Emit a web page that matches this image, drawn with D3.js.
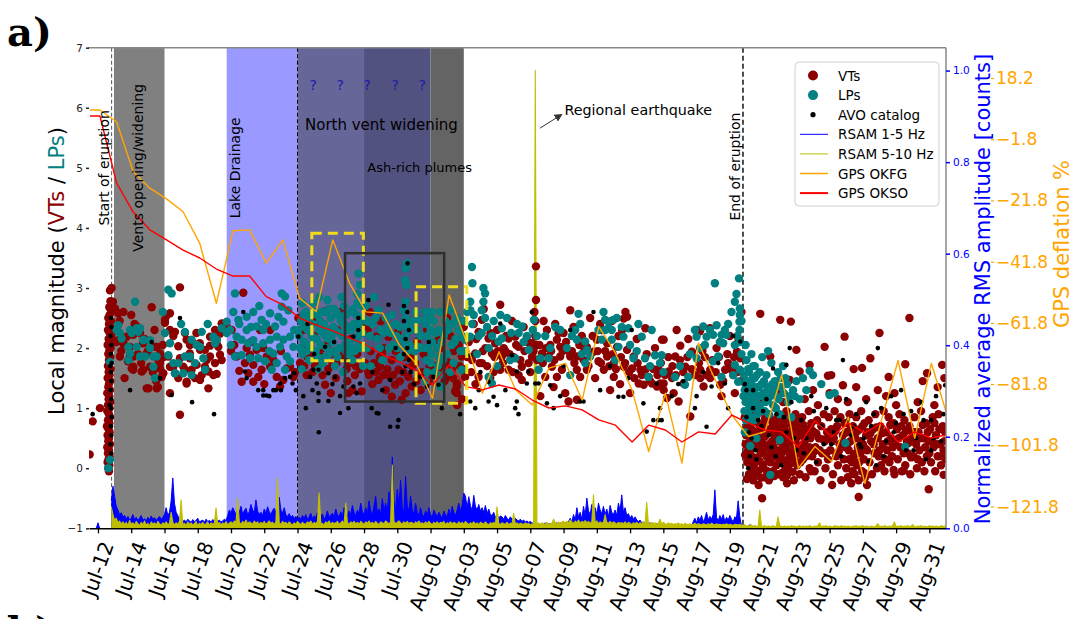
<!DOCTYPE html>
<html>
<head>
<meta charset="utf-8">
<script src="https://cdn.jsdelivr.net/npm/d3@7"></script>
<style>
html,body{margin:0;padding:0;background:#fff;overflow:hidden}
svg{display:block;font-family:"DejaVu Sans",sans-serif}
</style>
</head>
<body>
<svg id="chart" width="1079" height="619"></svg>
<script>
// ---------------------------------------------------------------
// Okmok 2008 eruption: seismicity, RSAM and GPS deflation
// Times are in days after 2008-07-12 00:00 UTC.
// ---------------------------------------------------------------

// x-axis tick labels (every two days from Jul-12)
const xTickLabels = ["Jul-12","Jul-14","Jul-16","Jul-18","Jul-20","Jul-22","Jul-24","Jul-26","Jul-28","Jul-30",
  "Aug-01","Aug-03","Aug-05","Aug-07","Aug-09","Aug-11","Aug-13","Aug-15","Aug-17","Aug-19",
  "Aug-21","Aug-23","Aug-25","Aug-27","Aug-29","Aug-31"];
const magTicks = [-1,0,1,2,3,4,5,6,7];
const rmsTicks = [0,0.2,0.4,0.6,0.8,1.0];
const gpsTicks = [18.2,-1.8,-21.8,-41.8,-61.8,-81.8,-101.8,-121.8];

// eruption phases [start day, end day]
const phaseSpans = [[0.96,4.0],[7.74,12.0],[12.0,16.0],[16.0,20.0],[20.0,22.0]];
// vertical markers: start of eruption, Jul-24, end of eruption
const eventDays = [0.82, 12.0, 38.79];
// regional earthquake (Aug-07)
const quakeDay = 26.31;

// highlighted windows [day0, day1, mag0, mag1]
const dashedBoxes = [[12.86,15.96,1.79,3.91],[19.13,22.18,1.08,3.02]];
const solidBoxes = [[14.86,20.82,1.11,3.58]];

// GPS deflation (%) - daily solutions
const gpsDays = [-0.48,0.12,1.12,2.12,3.12,4.12,5.12,6.12,7.12,8.12,9.12,10.12,11.12,12.12,13.12,14.12,15.12,16.12,17.12,18.12,19.12,
  20.12,21.12,22.12,23.12,24.12,25.12,26.12,27.12,28.12,29.12,30.12,31.12,32.12,33.12,34.12,35.12,36.12,37.12,38.12,39.12,
  40.12,41.12,42.12,43.12,44.12,45.12,46.12,47.12,48.12,49.12,50.12,51.0];
const gpsOKFG = [7.75,7.75,3.9,-12.4,-17.8,-21.3,-25.5,-35.8,-55.4,-31.7,-31.4,-42.3,-34.7,-53.7,-58.1,-34.7,-48.7,-58.2,-58.6,-69.0,-75.0,
  -86.4,-52.7,-67.4,-84.8,-71.2,-83.7,-88.6,-76.6,-75.0,-87.0,-63.0,-71.7,-83.7,-103.8,-84.8,-107.6,-68.4,-80.4,-91.9,-98.9,
  -97.3,-78.8,-109.3,-102.2,-107.1,-92.6,-114.2,-93.5,-74.1,-99.5,-75.0,-90.8];
const gpsOKSO = [5.8,5.8,-16.1,-25.6,-31.4,-34.7,-38.0,-40.6,-44.2,-46.5,-46.5,-53.2,-55.9,-60.2,-62.5,-64.4,-66.7,-69.0,-72.2,-74.5,-77.2,
  -82.1,-75.5,-82.6,-83.7,-82.1,-83.4,-87.0,-89.6,-88.9,-90.2,-93.5,-95.2,-100.7,-95.2,-96.8,-100.7,-97.4,-98.1,-91.9,-94.5,
  -96.8,-97.4,-102.3,-93.8,-99.0,-94.5,-97.7,-94.5,-100.7,-97.4,-99.4,-98.4];

// RSAM, normalized amplitude x1000, one sample every 0.1 day from day -0.5
const rsamStart = -0.5, rsamStep = 0.1;
const rsamLow = [
  null,null,null,null,0,12,0,null,null,null,
  null,null,null,60,92,70,48,40,30,34,
  25,28,20,26,18,22,30,19,24,17,
  22,28,18,21,16,24,19,27,20,23,
  17,22,26,19,24,30,45,28,35,60,
  110,55,35,28,20,16,15,18,14,20,
  16,13,19,15,17,22,14,16,18,13,
  20,15,17,14,19,16,21,15,18,14,
  16,20,17,28,40,33,45,38,30,42,
  35,48,32,38,44,30,36,52,40,34,
  62,38,30,35,28,42,33,47,36,30,
  39,44,34,55,68,40,33,45,30,26,
  32,24,28,22,26,20,24,20,28,22,
  30,19,25,33,21,27,24,35,22,28,
  31,20,26,38,24,29,33,26,42,30,
  25,36,28,45,32,27,38,30,50,35,
  28,40,33,55,36,30,45,32,60,38,
  28,50,70,35,42,30,65,40,55,35,
  80,45,156,60,40,85,50,105,45,38,
  113,50,36,70,40,30,55,35,28,45,
  30,25,38,28,45,30,24,40,32,26,
  35,28,22,38,30,25,42,30,48,35,
  28,40,55,38,50,77,70,45,69,50,
  38,72,48,40,52,38,45,35,50,32,
  42,30,28,35,24,30,22,27,25,20,
  28,22,18,25,20,17,22,18,16,20,
  15,18,14,16,13,15,12,10,12,9,
  11,8,10,9,12,8,10,9,11,8,
  10,12,9,11,13,10,12,11,15,22,
  14,30,18,45,25,35,20,48,28,66,
  38,30,52,35,45,30,55,40,32,48,
  30,42,25,50,35,30,40,28,55,38,
  73,35,45,28,32,22,28,20,25,18,
  15,18,12,14,11,13,10,12,9,11,
  8,10,7,9,6,8,5,7,5,6,
  4,6,5,4,6,5,4,5,3,5,
  4,5,4,15,22,12,25,18,28,14,
  22,35,18,26,20,30,84,24,16,28,
  20,30,15,24,18,28,20,14,25,22,
  60,25,5,3,2,4,3,8,6,3,
  2,3,2,4,2,3,1,2,3,2,
  3,2,1,2,3,2,2,1,3,2,
  2,1,3,2,2,3,1,2,2,3,
  1,2,2,3,2,1,2,3,2,2,
  3,2,1,2,2,3,2,1,2,3,
  2,2,3,1,2,2,3,2,1,2,
  2,3,2,2,1,3,2,2,3,1,
  2,1,2,3,2,2,1,3,2,2,
  3,2,2,1,2,3,2,2,1,2,
  2,3,1,2,2,2,3,1,2,2,
  1,2,3,2,2,1,2,2,3,2,
  2,2,1,3,2,2];
const rsamHigh = [
  null,null,null,null,null,null,null,null,null,null,
  null,null,null,47,30,18,22,12,16,9,
  14,8,13,6,17,9,12,7,15,10,
  6,13,8,16,7,11,5,14,9,12,
  7,15,10,6,12,9,14,8,11,35,
  13,7,12,9,15,62,8,11,6,14,
  9,12,7,10,15,6,11,8,13,7,
  10,14,6,12,9,11,44,8,13,7,
  12,9,15,8,11,14,10,16,12,66,
  13,9,15,11,18,10,14,12,9,16,
  11,14,8,13,10,15,9,12,16,11,
  13,8,14,110,12,9,15,11,13,8,
  14,10,7,12,9,15,11,8,13,10,
  9,14,11,16,8,13,10,15,77,12,
  10,8,14,11,16,9,13,10,12,15,
  9,12,16,10,55,13,8,14,11,15,
  10,13,9,15,12,8,14,11,16,10,
  13,9,15,11,8,14,12,10,16,13,
  9,14,138,15,10,13,16,12,9,14,
  11,15,10,13,12,9,14,11,16,10,
  12,9,14,10,15,11,8,13,10,14,
  9,13,11,15,8,12,10,14,9,13,
  11,8,14,10,13,9,15,11,8,12,
  10,14,9,12,8,13,11,9,14,10,
  8,12,10,13,9,47,11,8,12,10,
  9,13,8,11,10,33,9,12,8,11,
  10,8,12,9,11,7,10,8,1000,9,
  11,8,12,10,9,13,8,10,11,20,
  12,9,14,10,13,16,11,15,12,18,
  14,10,16,12,18,11,15,13,17,12,
  15,11,14,73,12,16,10,14,11,13,
  30,13,11,15,10,14,12,9,13,11,
  12,10,14,9,13,11,8,12,10,13,
  9,12,10,14,8,57,11,9,13,10,
  12,8,11,20,9,13,10,8,12,9,
  11,8,10,9,12,8,10,7,11,9,
  8,10,7,9,11,8,10,9,7,10,
  9,7,10,8,11,9,7,10,8,9,
  7,9,8,10,7,9,8,6,9,8,
  7,9,6,5,8,4,6,5,7,4,
  6,4,5,40,5,4,6,3,5,4,
  4,6,3,5,25,6,4,4,5,3,
  5,3,6,4,5,3,4,6,3,5,
  4,5,3,6,4,3,5,4,6,12,
  3,5,4,6,3,5,4,3,6,4,
  5,3,6,4,5,3,5,4,3,5,
  4,6,3,5,4,6,3,5,4,3,
  5,4,3,6,10,4,5,3,6,4,
  3,5,4,6,14,3,5,4,6,3,
  5,4,6,3,5,8,4,3,5,4,
  6,3,5,4,3,6,4,5,3,5,
  4,3,6,4,5,3];

// Volcano-tectonic events [day, local magnitude]
const vtEvents = [
  [-0.5,0.23],[-0.32,0.78],[0.12,1.0],
  [0.72,2.96],[0.75,2.78],[0.68,2.68],[0.8,2.6],[0.7,2.55],[0.62,2.5],[0.78,2.45],[0.66,2.4],[0.74,2.35],[0.6,2.3],
  [0.7,2.25],[0.8,2.2],[0.64,2.15],[0.72,2.1],[0.58,2.05],[0.76,2.0],[0.68,1.95],[0.62,1.9],[0.74,1.85],[0.66,1.8],
  [0.7,1.75],[0.6,1.7],[0.76,1.65],[0.64,1.6],[0.7,1.55],[0.58,1.5],[0.74,1.45],[0.66,1.4],[0.62,1.35],[0.72,1.3],
  [0.56,1.25],[0.68,1.2],[0.64,1.15],[0.74,1.1],[0.6,1.05],[0.7,1.0],[0.56,0.95],[0.66,0.9],[0.72,0.85],[0.6,0.8],
  [0.68,0.75],[0.54,0.7],[0.64,0.65],[0.7,0.6],[0.58,0.55],[0.66,0.5],[0.62,0.45],[0.72,0.4],[0.56,0.35],[0.66,0.3],
  [0.6,0.25],[0.7,0.2],[0.64,0.15],[0.58,0.1],[0.68,0.05],[0.62,0.0],[0.66,-0.05],[0.9,2.77],[0.82,3.0],
  [1.02,2.66],[1.53,2.6],[3.23,2.68],[2.12,2.22],[2.72,2.08],[3.43,2.02],[1.93,1.86],[2.63,1.61],[3.13,1.69],[2.12,1.69],
  [3.03,1.33],[3.63,1.8],[3.83,1.52],[3.73,1.66],[1.53,2.08],[1.22,2.13],[1.22,2.58],[1.02,2.3],[1.73,2.19],[1.93,2.02],
  [2.12,1.86],[2.33,2.36],[2.93,1.91],[3.53,2.02],[3.73,1.91],[2.73,1.64],[2.12,1.64],[2.93,1.33],[1.52,2.08],[1.32,1.86],
  [2.53,2.25],[2.03,1.66],[1.4,1.95],[1.8,1.78],[2.4,1.9],[2.6,1.75],[3.0,1.95],[3.3,1.6],[3.5,1.45],[1.1,2.1],
  [2.2,2.4],[3.9,2.05],[3.95,1.85],[1.6,1.5],[2.8,2.15],[3.4,2.3],[1.3,2.45],[2.0,2.55],[3.6,1.35],
  [4.93,3.01],[4.33,2.58],[4.03,2.47],[4.33,2.3],[4.63,2.27],[5.33,2.14],[4.83,2.03],[5.52,1.91],[5.72,2.08],[6.12,2.08],
  [5.92,2.25],[6.43,1.97],[6.74,1.86],[7.04,2.3],[7.14,2.14],[4.93,1.83],[5.52,1.83],[4.33,1.69],[4.63,1.58],[5.23,1.64],
  [5.63,1.64],[6.14,1.47],[5.33,1.44],[4.83,1.5],[6.43,1.69],[6.64,1.33],[4.33,1.25],[4.93,0.89],[7.44,1.8],[7.24,2.02],
  [3.73,1.75],[3.93,1.58],[6.64,1.61],[6.94,1.55],[4.13,2.54],[4.03,2.42],[4.53,2.2],[5.23,2.25],[5.53,2.05],[6.14,1.97],
  [6.74,2.04],[7.14,2.07],[7.04,1.75],[6.54,1.8],[5.93,1.72],[5.13,1.69],[4.53,1.69],[5.83,1.5],[6.24,1.55],[7.14,1.57],
  [5.33,1.41],[7.74,2.36],[7.44,2.41],[7.34,2.24],[7.34,1.89],[6.74,2.19],[4.23,1.86],[3.53,1.33],
  [8.74,2.92],[8.04,2.3],[9.54,1.97],[9.94,2.0],[8.94,2.0],[8.34,1.86],[8.84,1.75],[9.34,1.72],[9.84,1.64],[10.35,1.69],
  [10.75,1.52],[11.15,1.47],[9.64,1.52],[9.04,1.58],[8.64,1.44],[9.34,1.44],[10.95,1.36],[11.55,1.69],[11.75,1.52],[11.35,1.66],
  [10.15,1.86],[9.14,1.89],[9.75,2.3],[10.35,2.3],[8.2,2.05],[8.5,1.62],[10.55,1.8],[11.0,1.95],[11.85,1.6],[10.0,1.4],
  [8.0,1.95],[9.2,2.1],
  [13.66,2.61],[12.05,2.5],[12.35,2.3],[12.2,2.0],[12.6,1.85],[13.0,2.2],[13.3,1.9],[13.8,2.05],[14.1,1.75],[14.4,2.3],
  [14.8,1.95],[15.2,2.15],[15.5,1.7],[15.9,2.4],[12.9,1.6],[13.5,1.55],[14.3,1.5],[15.0,1.45],[15.6,1.9],[13.1,2.45],
  [14.6,2.6],[12.4,1.7],[15.3,1.3],[14.0,1.25],[13.66,1.39],[15.06,1.25],[15.86,1.28],[16.33,2.6],[16.73,2.19],
  [12.15,1.75],[12.55,1.55],[12.85,1.9],[13.05,1.7],[13.35,1.8],[13.55,2.0],[13.85,1.65],[14.05,1.9],[14.35,1.75],[14.65,1.85],
  [14.95,1.65],[15.15,1.75],[15.45,1.55],[15.75,1.65],
  [17.07,1.91],[17.67,1.8],[18.07,1.64],[18.67,1.52],[18.87,1.36],[17.87,1.39],[17.57,1.52],[16.97,1.69],[19.07,1.75],[18.27,1.14],
  [17.67,1.19],[16.87,1.47],[17.47,2.19],[16.4,1.95],[16.6,1.75],[17.2,2.0],[17.9,1.95],[18.4,1.85],[18.9,1.7],[19.3,1.55],
  [19.6,1.9],[19.9,1.45],[16.5,1.4],[17.3,1.3],[18.5,1.25],[19.4,1.3],[16.2,2.3],[17.0,2.45],[18.0,2.25],[19.2,2.1],
  [19.8,2.3],[16.3,1.55],[18.7,2.0],
  [16.05,1.75],[16.25,1.6],[16.7,1.6],[16.95,1.85],[17.15,1.55],[17.4,1.65],[17.75,1.55],[18.15,1.45],[18.35,1.6],[18.85,1.85],
  [19.15,1.45],[19.5,1.6],[19.95,1.7],
  [21.28,1.64],[21.58,1.41],[21.48,1.28],[20.98,1.52],[20.48,1.58],[21.88,1.86],[22.08,1.52],[21.58,1.36],[21.58,1.25],[20.6,2.0],
  [20.9,1.8],[21.2,2.2],[21.7,2.05],[22.0,2.35],[21.9,1.15],[21.6,1.05],[20.3,1.7],[21.0,2.5],[21.4,1.95],[20.48,2.14],
  [20.15,1.55],[20.7,1.7],[20.85,1.45],[21.1,1.75],[21.35,1.5],[21.75,1.7],[22.0,1.65],
  [24.19,2.72],[23.09,2.47],[22.89,2.27],[23.49,2.16],[23.89,2.08],[24.69,2.16],[25.09,2.19],[25.79,2.19],[25.29,2.02],[26.09,2.08],
  [22.69,1.91],[23.69,1.91],[24.29,1.86],[22.49,1.8],[23.09,1.75],[24.69,1.64],[25.49,1.69],[22.89,1.52],[23.59,1.5],[24.19,1.64],
  [25.49,1.47],[22.3,2.1],[22.6,2.4],[23.3,2.0],[24.0,2.3],[24.5,1.95],[25.0,1.85],[25.6,2.35],[25.9,1.75],[23.8,1.6],
  [22.7,1.4],[24.9,2.45],[23.2,2.65],[25.3,1.55],[24.4,2.0],[26.0,1.6],
  [22.2,1.85],[22.45,1.6],[22.75,2.15],[22.95,1.75],[23.15,1.95],[23.4,1.7],[23.6,2.25],[23.85,1.85],[24.05,1.95],[24.35,1.75],
  [24.55,2.2],[24.75,1.9],[24.95,1.6],[25.15,2.05],[25.4,1.8],[25.65,1.95],[25.85,2.1],[26.1,1.85],
  [26.34,3.36],[26.34,2.8],[26.25,2.6],[26.3,2.45],[26.3,2.2],[26.2,1.95],[26.4,2.05],
  [27.0,2.3],[27.6,2.14],[27.2,2.05],[27.8,2.02],[28.4,2.63],[28.4,1.86],[28.8,1.86],[29.2,1.8],[29.4,2.02],[28.8,1.64],
  [29.4,1.64],[29.0,1.52],[28.1,1.25],[28.3,1.11],[28.8,1.14],[26.7,1.91],[27.1,1.86],[27.8,1.86],[26.4,1.8],[27.3,1.69],
  [27.9,1.64],[27.6,1.52],[26.9,1.52],[30.0,2.14],[29.8,1.94],[30.1,1.78],[26.8,2.45],[27.5,2.4],[28.0,2.25],[28.6,2.35],
  [29.1,2.2],[29.6,2.5],[30.2,2.4],[27.4,1.35],[26.6,1.2],[29.9,1.5],[28.3,1.95],
  [26.55,2.05],[26.75,1.75],[26.95,2.0],[27.25,1.95],[27.45,1.8],[27.7,2.25],[27.95,1.95],[28.15,2.1],[28.5,1.95],[28.65,1.75],
  [28.95,2.05],[29.25,1.95],[29.5,1.7],[29.75,2.2],[30.05,1.95],[30.25,1.75],
  [31.72,2.6],[31.82,2.52],[31.62,2.49],[32.92,2.33],[31.52,2.3],[30.62,2.08],[31.22,2.02],[31.82,1.97],[32.22,1.86],[30.62,1.86],
  [31.02,1.75],[31.62,1.69],[32.12,1.66],[32.62,1.64],[30.42,1.64],[33.12,1.52],[32.52,1.41],[32.82,1.39],[33.32,1.41],[33.82,1.41],
  [34.02,1.3],[33.62,1.36],[33.92,2.14],[31.02,1.52],[30.3,2.3],[30.9,2.45],[31.4,1.4],[32.4,2.15],[33.0,1.9],[33.5,2.0],
  [30.8,1.3],[32.0,1.25],[33.7,1.65],[31.3,2.2],
  [30.5,1.95],[30.75,1.7],[30.95,1.9],[31.15,1.65],[31.45,1.85],[31.7,1.75],[31.95,1.6],[32.25,1.5],[32.45,1.75],[32.7,1.55],
  [32.95,1.65],[33.2,1.45],[33.4,1.65],[33.65,1.55],[33.85,1.75],
  [34.02,2.14],[34.72,1.86],[35.02,2.04],[35.72,1.94],[35.32,1.69],[34.52,1.5],[34.02,1.41],[34.62,1.25],[35.22,1.41],[36.22,1.64],
  [36.22,1.5],[36.82,1.5],[36.42,1.36],[36.82,1.64],[37.42,1.39],[37.72,1.64],[38.63,1.83],[38.43,1.94],[38.53,2.14],[34.22,1.17],
  [34.92,1.11],[35.62,0.86],[34.32,1.61],[36.0,2.3],[36.2,2.28],[36.8,2.33],[37.2,2.0],[37.9,1.75],[38.2,1.55],[37.5,1.2],
  [36.5,1.85],[35.5,2.15],[34.8,2.3],[38.0,2.2],[38.7,2.6],[38.3,1.25],
  [34.1,1.55],[34.3,1.85],[34.55,1.7],[34.75,1.55],[35.0,1.8],[35.2,1.6],[35.45,1.85],[35.7,1.65],[35.9,1.55],[36.15,1.75],
  [36.35,1.95],[36.6,1.55],[36.95,1.8],[37.15,1.6],[37.35,1.85],[37.6,1.45],[37.85,1.9],[38.05,1.65],[38.25,1.85],[38.45,1.6],
  [38.65,1.45],
  [39.83,2.57],[41.03,2.47],[41.67,2.44],[40.43,1.86],[42.0,1.97],[43.7,2.02],[44.9,2.19],[47.0,2.25],[48.8,2.5],[42.8,1.72],
  [42.2,1.61],[43.9,1.54],[44.1,1.55],[45.45,1.65],[45.95,1.67],[46.45,1.83],[47.55,1.52],[48.55,1.73],[50.77,1.72],[49.86,1.58],
  [45.6,1.35],[44.8,1.38],[41.6,1.47],[43.0,1.3],[44.0,1.25],[46.9,1.3],[49.6,1.45],[50.5,1.35],[39.2,1.2],[40.0,1.1],
  [42.5,1.15],[47.4,1.2],[48.0,1.05],[50.9,1.5],[40.9,1.25],[46.2,1.15],
  [39.5,1.05],[41.2,1.1],[43.3,1.05],[45.1,1.1],[47.9,1.25],[49.3,1.1],[50.3,1.05],[44.5,1.15],
  [39.94,-0.5],[45.75,-0.48],[44.15,-0.28],[49.96,-0.35],[50.86,-0.11],[41.44,-0.25],[39.73,-0.28],[46.25,-0.28],[47.85,-0.03],[48.45,-0.04],
  [38.9,0.85],[38.95,0.4],[39.0,0.65],[39.05,0.1],[39.1,0.95],[39.1,0.3],[39.15,-0.1],[39.2,0.55],[39.25,0.75],[39.3,0.2],
  [39.35,0.45],[39.4,-0.2],[39.4,0.9],[39.45,0.05],[39.5,0.6],[39.55,0.35],[39.6,0.8],[39.65,0.15],[39.7,-0.05],[39.75,0.5],
  [39.8,0.7],[39.85,0.25],[39.9,0.95],[39.95,0.0],[40.0,0.4],
  [38.92,0.22],[38.98,0.55],[39.03,-0.18],[39.08,0.72],[39.12,0.42],[39.18,0.08],[39.22,0.88],[39.27,0.31],[39.33,0.64],[39.38,-0.02],
  [39.43,0.49],[39.48,0.78],[39.52,0.17],[39.58,-0.12],[39.62,0.58],[39.68,0.37],[39.72,0.92],[39.78,0.12],[39.83,0.46],[39.88,-0.16],
  [39.93,0.67],[39.97,0.29],
  [40.05,0.75],[40.1,-0.15],[40.15,0.55],[40.2,0.2],[40.25,0.9],[40.3,0.35],[40.35,-0.2],[40.4,0.65],[40.45,0.1],[40.5,0.8],
  [40.55,0.45],[40.6,-0.05],[40.65,0.6],[40.7,0.25],[40.75,1.0],[40.8,0.05],[40.85,0.5],[40.9,0.7],[40.95,-0.1],[41.0,0.3],
  [40.02,0.06],[40.08,0.52],[40.12,0.83],[40.18,0.33],[40.22,-0.04],[40.28,0.62],[40.33,0.14],[40.38,0.87],[40.42,0.41],[40.48,-0.09],
  [40.52,0.24],[40.58,0.71],[40.63,0.36],[40.68,-0.13],[40.72,0.53],[40.78,0.19],[40.83,0.82],[40.88,0.27],[40.92,0.58],[40.98,0.09],
  [41.05,0.85],[41.1,0.15],[41.15,0.55],[41.2,-0.15],[41.25,0.4],[41.3,0.7],[41.35,0.0],[41.4,0.95],[41.45,0.3],[41.5,0.6],
  [41.55,-0.05],[41.6,0.2],[41.65,0.8],[41.7,0.45],[41.75,0.1],[41.8,0.65],[41.85,-0.2],[41.9,0.35],[41.95,0.9],[42.0,0.5],
  [41.03,0.44],[41.08,0.61],[41.13,-0.08],[41.18,0.27],[41.23,0.78],[41.28,0.13],[41.33,0.51],[41.38,0.34],[41.43,-0.12],[41.48,0.84],
  [41.53,0.42],[41.58,0.06],[41.63,0.57],[41.68,0.26],[41.73,0.73],[41.78,-0.06],[41.83,0.44],[41.88,0.16],[41.93,0.62],[41.98,0.28],
  [42.05,0.05],[42.1,0.7],[42.15,0.25],[42.2,-0.1],[42.3,0.55],[42.35,0.85],[42.4,0.15],[42.45,0.4],[42.55,-0.15],[42.6,0.65],
  [42.65,0.3],[42.75,0.95],[42.8,0.0],[42.85,0.5],[42.9,0.75],[42.95,0.2],
  [42.03,0.81],[42.12,0.38],[42.18,0.6],[42.25,0.1],[42.33,0.3],[42.42,0.72],[42.5,0.45],[42.58,0.2],[42.7,0.55],[42.78,0.35],
  [42.88,-0.05],[42.98,0.62],
  [43.05,0.6],[43.1,-0.05],[43.15,0.35],[43.25,0.8],[43.3,0.1],[43.35,0.5],[43.45,-0.2],[43.5,0.7],[43.55,0.25],[43.65,0.9],
  [43.7,0.45],[43.75,0.0],[43.85,0.6],[43.9,0.15],[43.95,0.85],
  [43.08,0.28],[43.2,0.58],[43.4,0.3],[43.6,0.48],[43.8,0.25],[43.98,0.52],
  [44.05,0.3],[44.1,0.65],[44.2,-0.1],[44.25,0.5],[44.3,0.95],[44.4,0.2],[44.45,0.7],[44.5,0.05],[44.6,0.4],[44.65,0.85],
  [44.7,-0.2],[44.8,0.55],[44.85,0.15],[44.9,0.75],[44.95,0.35],
  [44.15,0.45],[44.35,0.62],[44.55,0.28],[44.75,0.42],[44.98,0.6],
  [45.0,0.0],[45.05,0.6],[45.1,-0.15],[45.15,0.3],[45.2,0.9],[45.25,0.45],[45.3,-0.25],[45.35,0.1],[45.4,0.7],[45.45,0.2],
  [45.5,-0.1],[45.55,0.5],[45.6,0.85],[45.65,0.05],[45.7,0.35],[45.75,-0.2],[45.8,0.65],[45.85,0.25],[45.9,0.95],[45.95,-0.05],
  [46.0,0.4],[46.05,0.15],[46.1,0.75],[46.15,-0.15],[46.2,0.55],[46.25,0.3],
  [45.08,0.4],[45.18,0.15],[45.28,0.68],[45.38,-0.05],[45.48,0.55],[45.58,0.25],[45.68,0.62],[45.78,0.1],[45.88,0.45],[45.98,0.7],
  [46.08,-0.08],[46.18,0.32],[46.28,0.6],
  [46.35,0.8],[46.4,0.1],[46.5,0.45],[46.55,-0.1],[46.6,0.65],[46.7,0.25],[46.75,0.9],[46.85,0.0],[46.9,0.5],[46.95,0.2],
  [46.45,0.58],[46.65,0.4],[46.8,0.68],
  [47.05,0.7],[47.1,0.05],[47.2,0.4],[47.25,0.95],[47.3,-0.05],[47.4,0.6],[47.45,0.3],[47.55,0.85],[47.6,0.1],[47.7,0.5],
  [47.75,0.2],[47.85,0.75],[47.9,-0.1],[47.95,0.4],
  [47.0,0.3],[47.15,0.58],[47.35,0.15],[47.5,0.45],[47.65,0.72],[47.8,0.35],
  [48.05,0.65],[48.1,0.15],[48.2,0.9],[48.25,0.35],[48.35,-0.05],[48.4,0.55],[48.5,0.8],[48.55,0.05],[48.65,0.45],[48.7,0.25],
  [48.8,0.7],[48.85,-0.1],[48.95,0.5],
  [48.15,0.5],[48.3,0.7],[48.45,0.25],[48.6,0.62],[48.75,0.42],[48.9,0.18],
  [49.05,0.2],[49.1,0.85],[49.2,0.4],[49.25,0.0],[49.35,0.6],[49.4,0.3],[49.5,0.95],[49.55,0.1],[49.65,0.5],[49.7,-0.05],
  [49.8,0.75],[49.85,0.2],[49.95,0.45],
  [49.0,0.6],[49.15,0.6],[49.3,0.15],[49.45,0.5],[49.6,0.72],[49.75,0.35],[49.9,0.6],
  [50.05,0.65],[50.1,0.1],[50.2,0.85],[50.25,0.35],[50.35,-0.05],[50.4,0.55],[50.5,0.2],[50.55,0.9],[50.65,0.4],[50.7,0.05],
  [50.8,0.7],[50.85,0.3],[50.95,0.6],[50.98,0.15],
  [50.0,0.25],[50.15,0.45],[50.3,0.75],[50.45,0.4],[50.6,0.65],[50.75,0.2],[50.9,0.45]
];

// Long-period events [day, local magnitude]
const lpEvents = [
  [0.72,0.14],[0.62,0.0],[0.72,1.77],
  [2.23,2.77],[1.22,2.38],[2.03,2.25],[2.33,2.33],[3.13,2.13],[2.73,2.13],[1.93,1.91],[2.53,1.86],[3.53,1.86],[1.83,1.8],
  [3.13,2.0],[2.43,2.27],[1.32,2.25],[3.43,1.5],[1.93,2.3],[2.53,2.33],[2.73,2.14],[2.33,2.02],[1.83,2.02],[3.33,1.69],
  [3.33,1.86],[2.83,1.86],[1.42,2.16],[1.12,2.3],
  [4.23,2.97],[4.43,2.91],[4.03,2.25],[4.33,2.08],[4.23,1.88],[4.53,1.75],[4.83,1.75],[5.23,2.27],[5.63,2.14],[5.93,2.05],
  [6.14,2.02],[6.34,1.83],[6.44,1.64],[6.94,2.19],[7.04,2.08],[6.24,2.27],[5.23,1.86],[5.53,1.86],[4.63,1.58],[5.83,1.75],
  [5.63,1.55],[5.13,1.58],[7.44,2.33],[7.14,2.14],[5.0,2.4],[6.6,2.4],[3.9,2.6],
  [8.24,2.91],[8.14,2.6],[8.44,2.47],[8.94,2.52],[9.34,2.6],[9.84,2.47],[9.54,2.36],[9.94,2.3],[10.35,2.58],[11.05,2.91],
  [11.25,2.86],[11.05,2.69],[10.85,2.52],[11.15,2.44],[10.65,2.36],[11.45,2.63],[7.74,2.44],[7.94,2.3],[8.34,2.19],[8.64,2.14],
  [8.94,2.3],[9.34,2.13],[9.04,2.08],[9.54,2.02],[9.94,2.08],[10.35,2.14],[10.75,2.19],[11.15,2.14],[11.55,2.19],[11.75,2.02],
  [10.95,2.02],[10.55,1.91],[11.35,1.86],[11.55,1.78],[10.75,1.75],[11.25,1.64],[10.45,1.64],[10.05,1.78],[8.24,1.86],[8.64,1.88],
  [9.15,1.83],[9.64,1.83],[7.74,2.25],[8.5,2.4],[9.7,2.7],[10.1,2.4],[9.2,2.35],[11.8,2.3],[10.3,1.95],[8.0,2.05],
  [12.1,2.2],[12.2,2.45],[12.3,1.9],[12.4,2.1],[12.5,2.6],[12.6,2.3],[12.7,1.8],[12.8,2.0],[12.9,2.4],[13.0,2.15],
  [13.1,1.95],[13.2,2.55],[13.3,2.3],[13.4,2.05],[13.5,1.75],[13.6,2.4],[13.7,2.2],[13.8,2.8],[13.9,1.9],[14.0,2.5],
  [14.1,2.1],[14.2,2.65],[14.3,2.3],[14.4,1.85],[14.5,2.0],[14.6,2.45],[14.7,2.2],[14.8,2.7],[14.9,1.95],[15.0,2.35],
  [15.1,2.1],[15.2,2.6],[15.3,1.8],[15.4,2.4],[15.5,2.15],[15.6,2.9],[15.7,2.05],[15.8,2.5],[15.66,3.24],[15.75,3.05],
  [15.6,2.75],[15.9,2.25],[15.95,1.7],[12.25,1.65],[12.75,2.55],[13.25,1.65],[13.75,2.0],[14.25,1.7],[14.75,1.6],[15.25,2.0],
  [12.45,2.35],[12.95,2.75],[13.45,2.6],[13.95,2.3],[14.45,2.55],[14.95,2.3],[15.45,1.95],[12.65,2.05],[13.65,1.85],[14.85,2.05],
  [15.15,1.9],[13.15,2.15],[14.15,2.35],[15.55,2.55],
  [12.05,2.3],[12.15,2.0],[12.35,2.55],[12.55,1.95],[12.7,2.45],[12.85,2.2],[13.05,2.6],[13.2,1.85],[13.35,2.45],[13.55,2.25],
  [13.7,2.6],[13.85,2.15],[14.05,2.2],[14.2,1.95],[14.35,2.6],[14.55,2.25],[14.65,2.85],[14.8,2.4],[15.05,2.0],[15.2,2.3],
  [15.35,2.65],[15.5,2.35],[15.65,2.2],[15.8,2.0],[15.85,2.7],[12.3,2.75],[13.9,2.65],[14.9,2.55],[15.7,2.4],[13.3,2.85],
  [18.58,3.41],[18.5,3.33],[18.47,3.13],[18.55,3.05],[18.5,2.77],[18.4,2.63],[18.5,2.5],[18.58,2.36],[18.5,2.2],[18.45,2.08],
  [18.6,1.95],[16.87,2.63],[17.47,2.36],[17.77,2.05],[19.27,2.47],[19.27,2.02],[20.6,2.6],[20.5,2.3],[20.4,2.0],[20.52,1.85],
  [20.45,1.7],[20.5,1.55],[20.6,1.36],[19.68,2.6],[19.75,2.4],[19.8,2.2],[19.7,2.0],[19.75,1.8],[19.8,1.6],[19.72,1.45],
  [19.9,2.5],[20.0,2.3],[20.1,2.1],[20.05,1.9],[20.0,1.75],[20.2,2.45],[20.25,1.6],[16.2,2.0],[16.5,2.4],[16.8,2.15],
  [17.1,1.8],[17.3,2.5],[17.6,2.25],[18.0,2.0],[18.2,1.85],[18.8,2.3],[19.0,1.95],[19.4,2.2],[16.4,1.7],[17.0,2.3],
  [17.9,2.4],[19.1,2.6],[16.1,2.7],[16.6,2.85],
  [16.15,2.45],[16.35,2.2],[16.7,2.5],[16.95,2.0],[17.2,2.25],[17.5,2.0],[17.7,2.55],[17.95,2.2],[18.15,2.35],[18.3,2.15],
  [18.75,2.05],[18.95,2.45],[19.2,2.3],[19.45,2.0],[19.6,2.45],[19.85,2.0],[20.1,2.6],[20.3,2.25],[20.65,2.1],[20.75,1.8],
  [21.05,2.3],[21.3,2.4],[21.45,2.1],[21.7,2.45],[21.9,2.2],[22.05,1.95],
  [21.18,2.63],[21.58,2.5],[21.68,2.3],[21.28,2.05],[22.08,2.14],[21.38,1.75],[21.88,1.64],[20.8,2.2],[21.0,1.9],[21.5,2.15],
  [21.8,1.95],[20.9,2.45],[22.0,2.45],[21.2,1.6],
  [22.49,3.35],[22.52,3.08],[23.18,3.0],[23.28,2.91],[22.39,2.77],[22.39,2.63],[23.08,2.63],[23.18,2.77],[23.28,2.5],[23.08,2.25],
  [24.29,2.33],[24.29,2.16],[24.09,2.11],[25.49,2.36],[25.09,1.83],[24.79,1.8],[22.39,2.19],[23.49,1.52],[23.69,1.41],[25.9,1.97],
  [22.5,2.4],[23.5,2.0],[24.6,2.5],[25.3,2.25],[22.8,1.9],[24.0,1.7],[25.8,2.2],[22.2,2.6],[23.8,2.45],
  [22.6,2.55],[22.9,2.2],[23.4,2.35],[23.7,2.2],[24.2,2.55],[24.85,2.25],[25.2,2.4],[25.6,2.1],
  [26.22,2.47],[26.15,2.3],[27.2,2.0],[27.1,1.83],[28.4,1.55],[26.6,1.83],[26.5,1.64],[28.7,2.3],[28.8,2.14],[28.9,2.57],
  [29.3,2.11],[29.4,1.97],[29.6,1.86],[29.3,1.75],[27.5,2.35],[26.9,2.2],[28.2,2.0],[29.0,2.4],
  [26.4,2.2],[27.8,2.3],[28.5,2.2],[29.1,1.9],
  [30.5,2.47],[30.7,2.44],[31.0,2.47],[31.2,2.5],[30.7,2.33],[30.5,2.3],[30.3,2.14],[30.9,2.14],[31.3,2.02],[31.6,2.19],
  [31.9,2.33],[32.7,2.19],[32.9,1.83],[33.5,1.88],[33.1,1.52],[33.8,1.75],[32.2,1.83],[31.1,1.8],[30.4,2.6],[33.3,2.3],
  [32.5,2.4],[30.1,2.3],[30.9,2.3],[31.5,2.35],[32.0,2.05],[32.4,1.95],[33.2,1.7],
  [37.1,3.08],[38.55,3.16],[38.3,2.77],[38.6,2.66],[38.6,2.55],[38.58,2.44],[38.58,2.3],[35.9,2.3],[36.0,2.19],[36.4,2.36],
  [36.6,2.19],[37.0,2.22],[37.2,2.38],[37.5,2.22],[37.7,2.3],[37.8,2.22],[37.6,2.08],[38.3,2.05],[36.5,2.05],[37.3,1.86],
  [37.0,1.78],[38.3,1.72],[38.6,1.64],[38.2,1.55],[38.5,1.44],[36.0,1.83],[34.7,1.52],[35.3,1.39],[35.5,1.52],[33.9,1.88],
  [37.5,1.52],[38.4,2.9],[38.6,2.1],[38.7,1.9],
  [34.0,1.6],[35.0,1.7],[35.6,1.9],[36.2,2.0],[36.8,2.3],[37.4,2.1],[37.9,2.4],[38.1,2.6],[38.45,2.2],[38.7,2.45],
  [38.85,1.55],[38.9,1.3],[38.95,1.1],[39.0,1.45],[39.05,0.95],[39.1,1.25],[39.15,1.6],[39.2,0.85],[39.25,1.15],[39.3,1.4],
  [39.35,1.0],[39.4,1.25],[39.45,0.8],[39.5,1.5],[39.55,1.1],[39.6,1.35],[39.65,0.9],[39.7,1.2],[39.8,1.05],[39.9,1.4],
  [40.0,1.25],[40.1,0.95],[40.2,1.55],[40.3,1.15],[40.4,1.3],[40.5,1.75],[40.6,1.05],[40.7,1.45],[40.8,1.2],[40.9,1.6],
  [41.0,0.9],[41.1,1.35],[41.2,1.7],[41.35,1.5],[41.5,1.1],[41.7,0.85],[41.9,1.2],[42.2,1.15],[42.6,1.3],[42.8,1.62],
  [43.0,1.55],[44.0,1.22],[44.3,1.25],[38.9,0.6],[39.6,0.5],[40.43,-0.11],[39.23,0.37],[41.0,0.47],[48.55,0.36],[44.95,0.42],
  [39.0,1.8],[39.3,1.9],[39.5,1.7],[39.95,1.85],[40.3,1.95],[38.95,2.05],
  [38.82,1.2],[38.88,0.95],[38.93,1.4],[38.97,0.8],[39.02,1.15],[39.07,1.35],[39.12,0.9],[39.17,1.05],[39.22,1.45],[39.28,0.8],
  [39.32,1.2],[39.37,1.5],[39.42,1.0],[39.48,1.3],[39.52,0.85],[39.58,1.2],[39.63,1.55],[39.68,1.0],[39.75,1.35],[39.85,0.95],
  [39.95,1.2],[40.05,1.45],[40.15,1.1],[40.25,1.35],[40.35,0.9],[40.45,1.2],[40.55,1.4],[40.65,1.25],[40.75,1.0],[40.85,1.35],
  [40.95,1.15],[41.05,1.5],[41.25,1.25],[41.45,1.4],[41.6,1.2],[41.8,1.3],[42.0,1.45],[42.4,1.5],[43.5,1.4],[39.1,1.65],
  [39.4,1.7],[39.8,1.6]
];

// AVO catalog events [day, local magnitude]
const avoEvents = [
  [-0.32,0.9],
  [0.78,2.5],[0.8,2.35],[0.76,2.2],[0.8,2.05],[0.78,1.9],[0.82,1.75],[0.78,1.6],[0.8,1.45],[0.76,1.3],[0.8,1.15],
  [0.78,1.0],[0.82,0.85],[0.78,0.7],[0.8,0.55],[0.76,0.4],[0.8,0.25],[0.74,1.7],[0.7,1.05],
  [1.93,1.3],[3.73,1.5],[4.93,2.5],[5.66,1.1],[6.98,0.9],[4.43,1.22],[3.23,2.1],
  [8.74,2.6],[8.84,1.61],[8.94,1.5],[9.64,1.3],[9.94,1.3],[10.55,1.3],[9.94,1.21],[10.14,1.21],[10.95,1.41],[11.25,1.5],
  [11.55,1.52],[11.8,1.58],[11.7,1.41],[11.9,1.3],[11.0,1.3],[10.3,1.2],[10.7,1.3],
  [12.35,1.2],[13.16,1.41],[13.26,1.12],[13.86,1.12],[13.26,1.25],[12.76,1.52],[13.26,1.64],[13.86,1.58],[14.26,1.52],[14.56,1.2],
  [14.76,1.36],[15.36,1.36],[15.56,1.25],[15.76,1.41],[15.66,2.3],[15.36,2.19],[16.26,2.8],[15.06,1.0],[14.56,0.92],[16.46,1.0],
  [16.76,0.92],[13.28,0.6],[12.5,1.0],[14.1,1.4],[12.9,1.3],[12.05,2.19],[13.66,2.02],[12.95,1.64],[15.66,2.5],[14.2,2.1],
  [13.0,1.9],[14.9,1.8],[12.6,2.4],
  [18.62,3.41],[18.4,2.7],[18.6,2.6],[18.4,2.45],[18.7,2.3],[18.5,2.15],[18.6,2.0],[18.4,1.9],[18.7,1.8],[18.5,1.7],
  [18.8,1.6],[18.3,1.6],[17.47,2.72],[19.37,1.52],[17.57,1.47],[20.18,1.52],[20.48,1.39],[19.78,1.36],[16.87,0.91],[17.57,0.69],
  [18.02,0.69],[18.07,0.8],[20.68,1.0],[19.0,1.4],[17.1,1.3],[16.5,1.6],[19.9,2.1],[17.9,2.0],
  [24.19,2.41],[24.89,1.88],[22.39,1.88],[25.19,1.61],[25.89,1.61],[23.49,1.44],[23.79,1.19],[22.39,1.11],[22.69,1.0],[23.49,1.11],
  [25.19,1.11],[25.09,1.0],[25.29,0.9],[21.78,0.9],[25.79,1.41],[26.09,2.6],[24.5,1.3],[23.0,1.6],[22.9,1.3],[24.0,1.05],
  [26.3,1.41],[26.5,1.41],[28.4,2.3],[29.8,2.6],[27.2,1.38],[27.0,1.08],[27.4,1.0],[29.0,1.11],[29.2,1.11],[28.0,1.7],[27.8,1.2],
  [31.3,1.19],[31.6,1.19],[32.8,1.08],[33.0,0.61],[33.4,0.8],[33.7,0.8],[30.8,1.7],[32.1,2.3],[33.6,1.41],[33.8,1.0],[31.9,1.5],
  [30.2,1.3],[34.9,1.4],[36.0,1.2],
  [38.63,2.11],[36.9,1.36],[37.7,1.41],[35.9,1.0],[36.6,0.69],[33.9,0.8],[34.5,1.2],[36.4,1.6],[37.3,1.75],[38.2,2.2],
  [35.2,1.45],[37.9,1.0],
  [39.0,0.85],[39.3,0.5],[39.6,0.15],[39.9,0.7],[40.2,1.15],[40.5,0.35],[40.8,0.9],[41.1,0.05],[41.4,0.6],[41.7,1.1],
  [42.0,0.3],[42.3,0.8],[42.6,0.5],[42.9,1.2],[43.2,0.1],[43.5,0.7],[43.8,1.0],[44.1,0.4],[44.4,0.8],[44.7,0.2],
  [45.0,1.15],[45.3,0.55],[45.6,0.9],[45.9,0.35],[46.2,1.1],[46.5,0.7],[46.8,0.05],[47.1,1.0],[47.4,0.45],[47.7,1.2],
  [48.0,0.75],[48.3,1.3],[48.6,0.3],[48.9,0.95],[49.2,0.5],[49.5,1.1],[49.8,0.15],[50.1,0.8],[50.4,1.2],[50.7,0.45],
  [50.95,1.38],[41.6,2.0],[46.9,2.0],[44.8,1.8],[40.6,1.66],[41.4,1.72],[38.9,1.4],[39.4,1.3],[45.8,0.4],[46.35,0.11],
  [50.1,0.3],[39.1,0.0],[39.2,0.2],[44.6,0.8],[45.1,0.8],[39.0,1.3],[39.4,1.0],[39.7,0.8],[40.0,0.95],
  [39.15,0.6],[39.55,0.3],[40.35,0.55],[40.75,0.2],[41.25,0.85],[41.85,0.5],[42.45,0.25],[43.05,0.95],[43.65,0.4],[44.25,0.6],
  [45.45,0.7],[46.05,0.5],[46.65,0.9],[47.25,0.2],[47.85,0.6],[48.45,0.9],[49.05,0.3],[49.65,0.8],[50.25,0.5],[50.85,0.9]
];

// ---------------------------------------------------------------
// Drawing
// ---------------------------------------------------------------
const svg = d3.select("#chart");
const P = {left: 89, right: 946, top: 47.7, bottom: 528.3};
const T0 = Date.UTC(2008, 6, 12);
const dt = d => new Date(T0 + d * 864e5);

const x = d3.scaleUtc().domain([dt(-0.54), dt(51.0)]).range([P.left, P.right]);
const yMag = d3.scaleLinear().domain([-1, 7]).range([P.bottom, P.top]);
const yRms = d3.scaleLinear().domain([0, 1.05]).range([P.bottom, P.top]);
const yGps = d3.scaleLinear().domain([-128.9, 28.1]).range([P.bottom, P.top]);

const COL = {vt: "#8b0000", lp: "#008080", avo: "#000000", rsamLow: "#0000ff", rsamHigh: "#bfbf00",
             okfg: "#ffa500", okso: "#ff0000", box: "#f0dc1e"};

svg.append("rect").attr("width", 1079).attr("height", 619).attr("fill", "#fff");

const defs = svg.append("defs");
defs.append("clipPath").attr("id", "plotClip").append("rect")
  .attr("x", P.left).attr("y", P.top).attr("width", P.right - P.left).attr("height", P.bottom - P.top);
const arrow = defs.append("marker").attr("id", "arrowHead").attr("viewBox", "0 0 10 10")
  .attr("refX", 9).attr("refY", 5).attr("markerWidth", 8).attr("markerHeight", 8)
  .attr("markerUnits", "userSpaceOnUse").attr("orient", "auto");
arrow.append("path").attr("d", "M0,0 L10,5 L0,10 z").attr("fill", "#333");

const plot = svg.append("g").attr("clip-path", "url(#plotClip)");

// eruption phase bands
const spanFill = ["#808080", "#9999ff", "#666699", "#525281", "#646464"];
plot.append("g").selectAll("rect").data(phaseSpans).join("rect")
  .attr("x", d => x(dt(d[0]))).attr("width", d => x(dt(d[1])) - x(dt(d[0])))
  .attr("y", P.top).attr("height", P.bottom - P.top)
  .attr("fill", (d, i) => spanFill[i]);

// event markers
plot.append("g").selectAll("line").data(eventDays).join("line")
  .attr("x1", d => x(dt(d))).attr("x2", d => x(dt(d)))
  .attr("y1", P.top).attr("y2", P.bottom)
  .attr("stroke", (d, i) => i === 0 ? "#555" : "#000")
  .attr("stroke-width", (d, i) => i === 2 ? 1.4 : 1)
  .attr("stroke-dasharray", (d, i) => i === 2 ? "5,3" : "4,2.5");

// RSAM traces (dense traces drawn as filled envelopes)
const rsamX = (v, i) => x(dt(rsamStart + i * rsamStep));
const rsamArea = d3.area().defined(v => v !== null).x(rsamX).y0(yRms(0)).y1(v => yRms(v / 1000));
const rsamLine = d3.line().defined(v => v !== null).x(rsamX).y(v => yRms(v / 1000));
plot.append("path").attr("d", rsamArea(rsamLow)).attr("fill", COL.rsamLow);
plot.append("path").attr("d", rsamLine(rsamLow)).attr("fill", "none")
  .attr("stroke", COL.rsamLow).attr("stroke-width", 1).attr("stroke-linejoin", "round");
plot.append("path").attr("d", rsamArea(rsamHigh)).attr("fill", COL.rsamHigh);
plot.append("path").attr("d", rsamLine(rsamHigh)).attr("fill", "none")
  .attr("stroke", COL.rsamHigh).attr("stroke-width", 1.1).attr("stroke-linejoin", "round");

// seismic events
const dots = (data, r, fill) => plot.append("g").selectAll("circle").data(data).join("circle")
  .attr("cx", d => x(dt(d[0]))).attr("cy", d => yMag(d[1])).attr("r", r).attr("fill", fill);
dots(vtEvents, 4.2, COL.vt);
dots(lpEvents, 4.2, COL.lp);
dots(avoEvents, 2.3, COL.avo);

// GPS deflation
const gpsPath = d3.line().x((v, i) => x(dt(gpsDays[i]))).y(v => yGps(v));
plot.append("path").attr("d", gpsPath(gpsOKFG)).attr("fill", "none")
  .attr("stroke", COL.okfg).attr("stroke-width", 1.4).attr("stroke-linejoin", "round");
plot.append("path").attr("d", gpsPath(gpsOKSO)).attr("fill", "none")
  .attr("stroke", COL.okso).attr("stroke-width", 1.4).attr("stroke-linejoin", "round");

// highlighted windows
const boxRect = (g, b) => g.attr("x", x(dt(b[0]))).attr("y", yMag(b[3]))
  .attr("width", x(dt(b[1])) - x(dt(b[0]))).attr("height", yMag(b[2]) - yMag(b[3])).attr("fill", "none");
dashedBoxes.forEach(b => boxRect(svg.append("rect"), b)
  .attr("stroke", COL.box).attr("stroke-width", 3).attr("stroke-dasharray", "10,6"));
solidBoxes.forEach(b => boxRect(svg.append("rect"), b)
  .attr("stroke", "#2e2e2e").attr("stroke-width", 2.5));

// annotations
const ann = svg.append("g").attr("fill", "#000");
const vText = (day, mag, txt, size) => ann.append("text")
  .attr("transform", `translate(${x(dt(day))},${yMag(mag)}) rotate(-90)`)
  .attr("text-anchor", "middle").attr("dominant-baseline", "central")
  .attr("font-size", size).text(txt);
vText(0.36, 5.0, "Start of eruption", 14);
vText(2.4, 5.0, "Vents opening/widening", 14);
vText(8.25, 5.0, "Lake Drainage", 14);
vText(38.33, 5.02, "End of eruption", 14);

ann.append("text").attr("x", x(dt(12.45))).attr("y", yMag(5.71)).attr("dominant-baseline", "central")
  .attr("font-size", 15).text("North vent widening");
ann.append("text").attr("x", x(dt(16.2))).attr("y", yMag(5.0)).attr("dominant-baseline", "central")
  .attr("font-size", 13).text("Ash-rich plumes");

const qDays = [12.95, 14.57, 16.19, 17.87, 19.5];
ann.append("g").selectAll("text").data(qDays).join("text")
  .attr("x", d => x(dt(d))).attr("y", yMag(6.38))
  .attr("text-anchor", "middle").attr("dominant-baseline", "central")
  .attr("font-size", 14).attr("fill", "#1c1ca8").text("?");

ann.append("text").attr("x", x(dt(28.05))).attr("y", yMag(5.97)).attr("dominant-baseline", "central")
  .attr("font-size", 14.3).text("Regional earthquake");
svg.append("line")
  .attr("x1", x(dt(quakeDay + 0.27))).attr("y1", yMag(5.66))
  .attr("x2", x(dt(27.9))).attr("y2", yMag(5.89))
  .attr("stroke", "#333").attr("stroke-width", 1).attr("marker-end", "url(#arrowHead)");

// frame
svg.append("line").attr("x1", P.left - 1).attr("x2", P.right).attr("y1", P.top).attr("y2", P.top)
  .attr("stroke", "#888").attr("stroke-width", 1.5);
svg.append("line").attr("x1", P.right).attr("x2", P.right).attr("y1", P.top).attr("y2", P.bottom)
  .attr("stroke", "#888").attr("stroke-width", 1.5);

// bottom date axis
const tickDates = xTickLabels.map((s, i) => dt(2 * i));
const xAxis = svg.append("g").attr("transform", `translate(0,${P.bottom})`)
  .call(d3.axisBottom(x).tickValues(tickDates).tickFormat((d, i) => xTickLabels[i])
    .tickSize(5).tickSizeOuter(0));
xAxis.select(".domain").attr("stroke", "#000").attr("stroke-width", 1.5);
xAxis.selectAll(".tick line").attr("stroke", "#000").attr("stroke-width", 1.3);
xAxis.selectAll(".tick text")
  .attr("x", null).attr("y", null).attr("dy", null)
  .attr("text-anchor", "end").attr("dominant-baseline", "central")
  .attr("transform", "translate(9,14) rotate(-70)")
  .attr("font-size", 20).attr("font-family", "DejaVu Sans").attr("fill", "#000");

// left magnitude axis
const yAxisL = svg.append("g").attr("transform", `translate(${P.left},0)`)
  .call(d3.axisLeft(yMag).tickValues(magTicks).tickSize(3).tickPadding(3)
    .tickFormat(d => d < 0 ? "\u2212" + Math.abs(d) : String(d)));
yAxisL.select(".domain").remove();
yAxisL.selectAll(".tick line").attr("stroke", "#222").attr("stroke-width", 1.5);
yAxisL.selectAll(".tick text").attr("font-size", 10.5).attr("font-family", "DejaVu Sans").attr("fill", "#222");

// right RMS axis
const yAxisR = svg.append("g").attr("transform", `translate(${P.right},0)`)
  .call(d3.axisRight(yRms).tickValues(rmsTicks).tickSize(4).tickPadding(3).tickFormat(d3.format(".1f")));
yAxisR.select(".domain").remove();
yAxisR.selectAll(".tick line").attr("stroke", "#0000ff").attr("stroke-width", 1.5);
yAxisR.selectAll(".tick text").attr("font-size", 10.5).attr("font-family", "DejaVu Sans").attr("fill", "#0000ff");

// outer right GPS axis
const yAxisG = svg.append("g").attr("transform", "translate(991,0)")
  .call(d3.axisRight(yGps).tickValues(gpsTicks).tickSize(3).tickPadding(2).tickFormat(d3.format(".1f")));
yAxisG.select(".domain").remove();
yAxisG.selectAll(".tick line").attr("stroke", COL.okfg).attr("stroke-width", 1.2);
yAxisG.selectAll(".tick text").attr("font-size", 17).attr("font-family", "DejaVu Sans").attr("fill", COL.okfg);

// axis titles
const yTitle = svg.append("text").attr("transform", "translate(57,271) rotate(-90)")
  .attr("text-anchor", "middle").attr("dominant-baseline", "central").attr("font-size", 21);
yTitle.append("tspan").text("Local magnitude (");
yTitle.append("tspan").attr("fill", COL.vt).text("VTs");
yTitle.append("tspan").text(" / ");
yTitle.append("tspan").attr("fill", COL.lp).text("LPs");
yTitle.append("tspan").text(")");

svg.append("text").attr("transform", "translate(983,289) rotate(-90)")
  .attr("text-anchor", "middle").attr("dominant-baseline", "central").attr("font-size", 21)
  .attr("fill", "#0000ff").text("Normalized average RMS amplitude [counts]");
svg.append("text").attr("transform", "translate(1062,244) rotate(-90)")
  .attr("text-anchor", "middle").attr("dominant-baseline", "central").attr("font-size", 21)
  .attr("fill", COL.okfg).text("GPS deflation %");

// legend
const legendItems = [
  {label: "VTs", kind: "dot", r: 5, color: COL.vt},
  {label: "LPs", kind: "dot", r: 5, color: COL.lp},
  {label: "AVO catalog", kind: "dot", r: 2.6, color: COL.avo},
  {label: "RSAM 1-5 Hz", kind: "line", w: 1, color: COL.rsamLow},
  {label: "RSAM 5-10 Hz", kind: "line", w: 1, color: COL.rsamHigh},
  {label: "GPS OKFG", kind: "line", w: 1.5, color: COL.okfg},
  {label: "GPS OKSO", kind: "line", w: 2, color: COL.okso}
];
const lg = svg.append("g").attr("transform", "translate(795,62)");
lg.append("rect").attr("width", 144).attr("height", 144).attr("rx", 4)
  .attr("fill", "#fff").attr("fill-opacity", 0.85).attr("stroke", "#d0d0d0");
legendItems.forEach((it, i) => {
  const yy = 13.5 + i * 19.6;
  if (it.kind === "dot") {
    lg.append("circle").attr("cx", 18).attr("cy", yy).attr("r", it.r).attr("fill", it.color);
  } else {
    lg.append("line").attr("x1", 5).attr("x2", 33).attr("y1", yy).attr("y2", yy)
      .attr("stroke", it.color).attr("stroke-width", it.w);
  }
  lg.append("text").attr("x", 43).attr("y", yy).attr("dominant-baseline", "central")
    .attr("font-size", 13.5).text(it.label);
});

// panel letters (the lower panel's letter sits at the bottom edge)
svg.append("text").attr("x", 7).attr("y", 46).attr("font-family", "DejaVu Serif, serif")
  .attr("font-weight", "bold").attr("font-size", 40).text("a)");
svg.append("text").attr("x", 7).attr("y", 645).attr("font-family", "DejaVu Serif, serif")
  .attr("font-weight", "bold").attr("font-size", 40).text("b)");
</script>
</body>
</html>
